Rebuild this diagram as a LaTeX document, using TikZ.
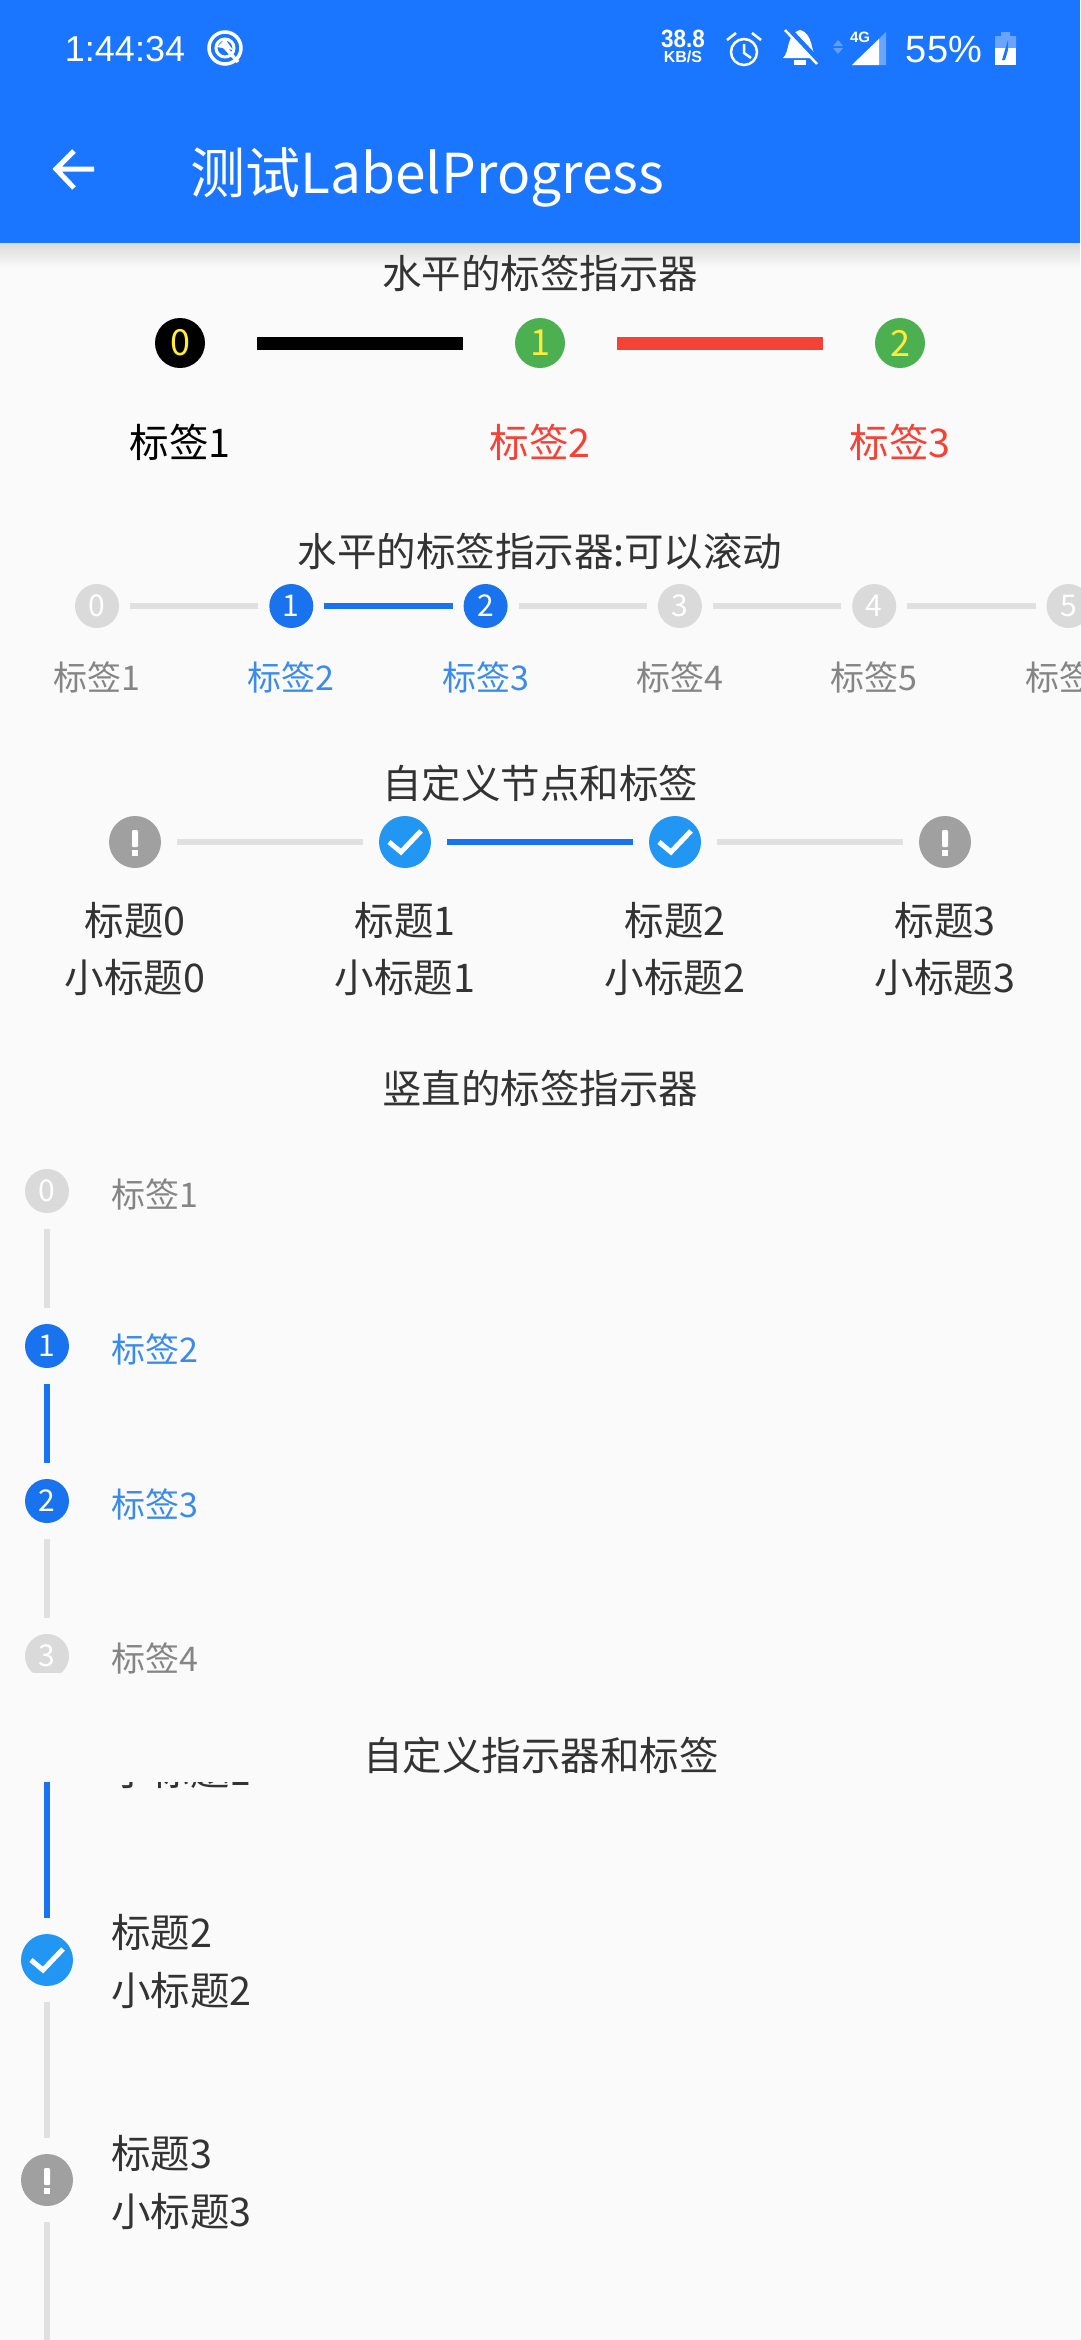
\documentclass[tikz,border=0pt]{standalone}
\usepackage{fontspec}
\usepackage{xcolor}
\usepackage{tikz}
\usetikzlibrary{positioning,arrows}
\setmainfont{Noto Sans CJK SC}
\newfontfamily\statusfont{Liberation Sans}
\newcommand{\fsz}[1]{\fontsize{#1pt}{#1pt}\selectfont}

\definecolor{barblue}{HTML}{1A75FF}
\definecolor{nodeblue}{HTML}{1A73EE}
\definecolor{textblue}{HTML}{3B8BEB}
\definecolor{checkblue}{HTML}{2196F3}
\definecolor{lightgrey}{HTML}{DADADA}
\definecolor{warngrey}{HTML}{A0A0A0}
\definecolor{textgrey}{HTML}{858585}
\definecolor{textdark}{HTML}{333333}
\definecolor{redline}{HTML}{F44336}
\definecolor{greenfill}{HTML}{4CAF50}
\definecolor{yellowtext}{HTML}{FFEB3B}
\definecolor{page}{HTML}{FAFAFA}

\tikzset{
  heading/.style={font=\fsz{39.5},text=textdark},
  tag/.style={circle,inner sep=0pt,outer sep=0pt,minimum size=#1},
  tagBig/.style={tag=50pt,font=\fsz{36},text=yellowtext},
  tagSmall/.style={tag=44pt,font=\fsz{30},text=white},
  tagOff/.style={tagSmall,fill=lightgrey},
  tagOn/.style={tagSmall,fill=nodeblue},
  checked/.style={tag=52pt,fill=checkblue,path picture={
    \draw[white,line width=5pt] ([shift={(-16,0)}]path picture bounding box.center)
      -- ++(12,10) -- ++(20,-21);}},
  warned/.style={tag=52pt,fill=warngrey,path picture={
    \fill[white,rounded corners=1pt] ([shift={(-3,-12)}]path picture bounding box.center) rectangle ++(6,17);
    \fill[white] ([shift={(-3,8)}]path picture bounding box.center) rectangle ++(6,6);}},
  labBig/.style={font=\fsz{39.5}},
  labSmall/.style={font=\fsz{34},text=textgrey},
  labSmallOn/.style={font=\fsz{34},text=textblue},
  labDark/.style={font=\fsz{39.5},text=textdark},
  thick line/.style={line width=13pt},
  gapBig/.style={shorten >=52pt,shorten <=52pt},
  gapMid/.style={shorten >=11pt,shorten <=11pt},
  link/.style={line width=6pt,lightgrey!85!white,shorten >=16pt,shorten <=16pt},
  linkOn/.style={link,nodeblue}
}

\begin{document}
\begin{tikzpicture}[x=1pt,y=-1pt,every node/.style={on grid}]
  \useasboundingbox (0,0) rectangle (1080,2340);
  \fill[page] (0,0) rectangle (1080,2340);
  \shade[top color=black!14,bottom color=page] (0,243) rectangle (1080,268);
  \fill[barblue] (0,0) rectangle (1080,243);

  % status bar
  \node[font=\statusfont\fsz{36},text=white] (Clock) at (125,49) {1:44:34};
  \draw[white,line width=3.5pt] (225,48) circle (16pt);
  \draw[white,line width=3pt] (225,48) circle (9pt);
  \fill[white] (225,39) -- (217,47) -- (233,50) -- cycle;
  \draw[white,line width=3.5pt] (222,44) -- (238,62);
  \node[font=\statusfont\bfseries\fsz{25},text=white,xscale=.9] (Speed) at (683,39) {38.8};
  \node[font=\statusfont\bfseries\fsz{16},text=white] (SpeedUnit) at (683,57) {KB/S};
  \draw[white,line width=2.5pt] (744,52) circle (13pt) (744,44) -- (744,53) -- (751,58);
  \draw[white,line width=2.5pt] (727,40) -- (736,33) (761,40) -- (752,33);
  \fill[white] (783,58) .. controls (790,52) and (786,34) .. (800,30) .. controls (814,34) and (810,52) .. (817,58) -- cycle;
  \fill[white] (794,60) rectangle (806,65);
  \draw[barblue,line width=6pt] (787,28) -- (819,62);
  \draw[white,line width=2.5pt] (785,30) -- (817,64);
  \fill[white,opacity=.3] (833,46) -- (843,46) -- (838,40) -- cycle (833,48) -- (843,48) -- (838,54) -- cycle;
  \fill[white,opacity=.35] (852,65) -- (886,65) -- (886,32) -- cycle;
  \fill[white] (852,65) -- (879,65) -- (879,39) -- cycle;
  \node[font=\statusfont\bfseries\fsz{15},text=white] (Net) at (860,37) {4G};
  \node[font=\statusfont\fsz{38},text=white] (Battery) at (944,49) {55\%};
  \fill[white,opacity=.35] (995,36) rectangle (1016,48) (1001,32) rectangle (1010,36);
  \fill[white] (995,48) rectangle (1016,65);
  \fill[barblue] (1008,40) -- (1002,60) -- (1005,60) -- (1008,50) -- cycle;

  % app bar
  \draw[white,line width=5pt] (94,169) -- (56,169) (74,151) -- (56,169) -- (74,188);
  \node[font=\fsz{55},text=white,anchor=west] (Title) at (187,177) {测试LabelProgress};

  % horizontal
  \node[heading] (HeadH) at (540,273) {水平的标签指示器};
  \node[tagBig,fill=black] (H0) at (180,343) {0};
  \node[tagBig,fill=greenfill,node distance=360pt,right of=H0] (H1) {1};
  \node[tagBig,fill=greenfill,node distance=360pt,right of=H1] (H2) {2};
  \draw[thick line,gapBig] (H0) -- (H1);
  \draw[thick line,gapBig,redline] (H1) -- (H2);
  \node[labBig,node distance=99pt,below of=H0] (LabH0) {标签1};
  \node[labBig,text=redline,node distance=99pt,below of=H1] (LabH1) {标签2};
  \node[labBig,text=redline,node distance=99pt,below of=H2] (LabH2) {标签3};

  % horizontal, scrolling
  \node[heading] (HeadS) at (540,552) {水平的标签指示器:可以滚动};
  \node[tagOff] (S0) at (97,606) {0};
  \node[tagOn,node distance=194.3pt,right of=S0] (S1) {1};
  \node[tagOn,node distance=194.3pt,right of=S1] (S2) {2};
  \node[tagOff,node distance=194.3pt,right of=S2] (S3) {3};
  \node[tagOff,node distance=194.3pt,right of=S3] (S4) {4};
  \node[tagOff,node distance=194.3pt,right of=S4] (S5) {5};
  \draw[link,gapMid] (S0) -- (S1);
  \draw[linkOn,gapMid] (S1) -- (S2);
  \draw[link,gapMid] (S2) -- (S3);
  \draw[link,gapMid] (S3) -- (S4);
  \draw[link,gapMid] (S4) -- (S5);
  \node[labSmall,node distance=71pt,below of=S0] (LabS0) {标签1};
  \node[labSmallOn,node distance=71pt,below of=S1] (LabS1) {标签2};
  \node[labSmallOn,node distance=71pt,below of=S2] (LabS2) {标签3};
  \node[labSmall,node distance=71pt,below of=S3] (LabS3) {标签4};
  \node[labSmall,node distance=71pt,below of=S4] (LabS4) {标签5};
  \node[labSmall,node distance=71pt,below of=S5] (LabS5) {标签6};

  % custom nodes
  \node[heading] (HeadC) at (540,783) {自定义节点和标签};
  \node[warned] (C0) at (135,842) {};
  \node[checked,node distance=270pt,right of=C0] (C1) {};
  \node[checked,node distance=270pt,right of=C1] (C2) {};
  \node[warned,node distance=270pt,right of=C2] (C3) {};
  \draw[link] (C0) -- (C1);
  \draw[linkOn] (C1) -- (C2);
  \draw[link] (C2) -- (C3);
  \node[labDark,node distance=78pt,below of=C0] (TitleC0) {标题0};
  \node[labDark,node distance=78pt,below of=C1] (TitleC1) {标题1};
  \node[labDark,node distance=78pt,below of=C2] (TitleC2) {标题2};
  \node[labDark,node distance=78pt,below of=C3] (TitleC3) {标题3};
  \node[labDark,node distance=57pt,below of=TitleC0] (SubC0) {小标题0};
  \node[labDark,node distance=57pt,below of=TitleC1] (SubC1) {小标题1};
  \node[labDark,node distance=57pt,below of=TitleC2] (SubC2) {小标题2};
  \node[labDark,node distance=57pt,below of=TitleC3] (SubC3) {小标题3};

  % vertical
  \node[heading] (HeadV) at (540,1088) {竖直的标签指示器};
  \node[tagOff] (V0) at (47,1191) {0};
  \node[tagOn,node distance=155pt,below of=V0] (V1) {1};
  \node[tagOn,node distance=155pt,below of=V1] (V2) {2};
  \begin{scope}
    \clip (0,1600) rectangle (1080,1672);
    \node[tagOff,node distance=155pt,below of=V2] (V3) {3};
  \end{scope}
  \draw[link] (V0) -- (V1);
  \draw[linkOn] (V1) -- (V2);
  \draw[link] (V2) -- (V3);
  \node[labSmall,anchor=west] (LabV0) at (107.5,1194) {标签1};
  \node[labSmallOn,anchor=west] (LabV1) at (107.5,1349) {标签2};
  \node[labSmallOn,anchor=west] (LabV2) at (107.5,1504) {标签3};
  \node[labSmall,anchor=west] (LabV3) at (107.5,1658) {标签4};

  % custom vertical, scrolled under its heading
  \node[heading] (HeadW) at (541,1755) {自定义指示器和标签};
  \begin{scope}
    \clip (0,1782) rectangle (1080,1800);
    \node[labDark,anchor=west] (SubW1) at (107.5,1770) {小标题1};
  \end{scope}
  \coordinate (Wtop) at (47,1782);
  \coordinate (Wend) at (47,2340);
  \node[checked] (W2) at (47,1960) {};
  \node[warned,node distance=220pt,below of=W2] (W3) {};
  \draw[linkOn,shorten <=0pt] (Wtop) -- (W2);
  \draw[link] (W2) -- (W3);
  \draw[link,shorten >=0pt] (W3) -- (Wend);
  \node[labDark,anchor=west] (TitleW2) at (107.5,1932) {标题2};
  \node[labDark,anchor=west] (SubW2) at (107.5,1990) {小标题2};
  \node[labDark,anchor=west] (TitleW3) at (107.5,2153) {标题3};
  \node[labDark,anchor=west] (SubW3) at (107.5,2211) {小标题3};
\end{tikzpicture}
\end{document}
